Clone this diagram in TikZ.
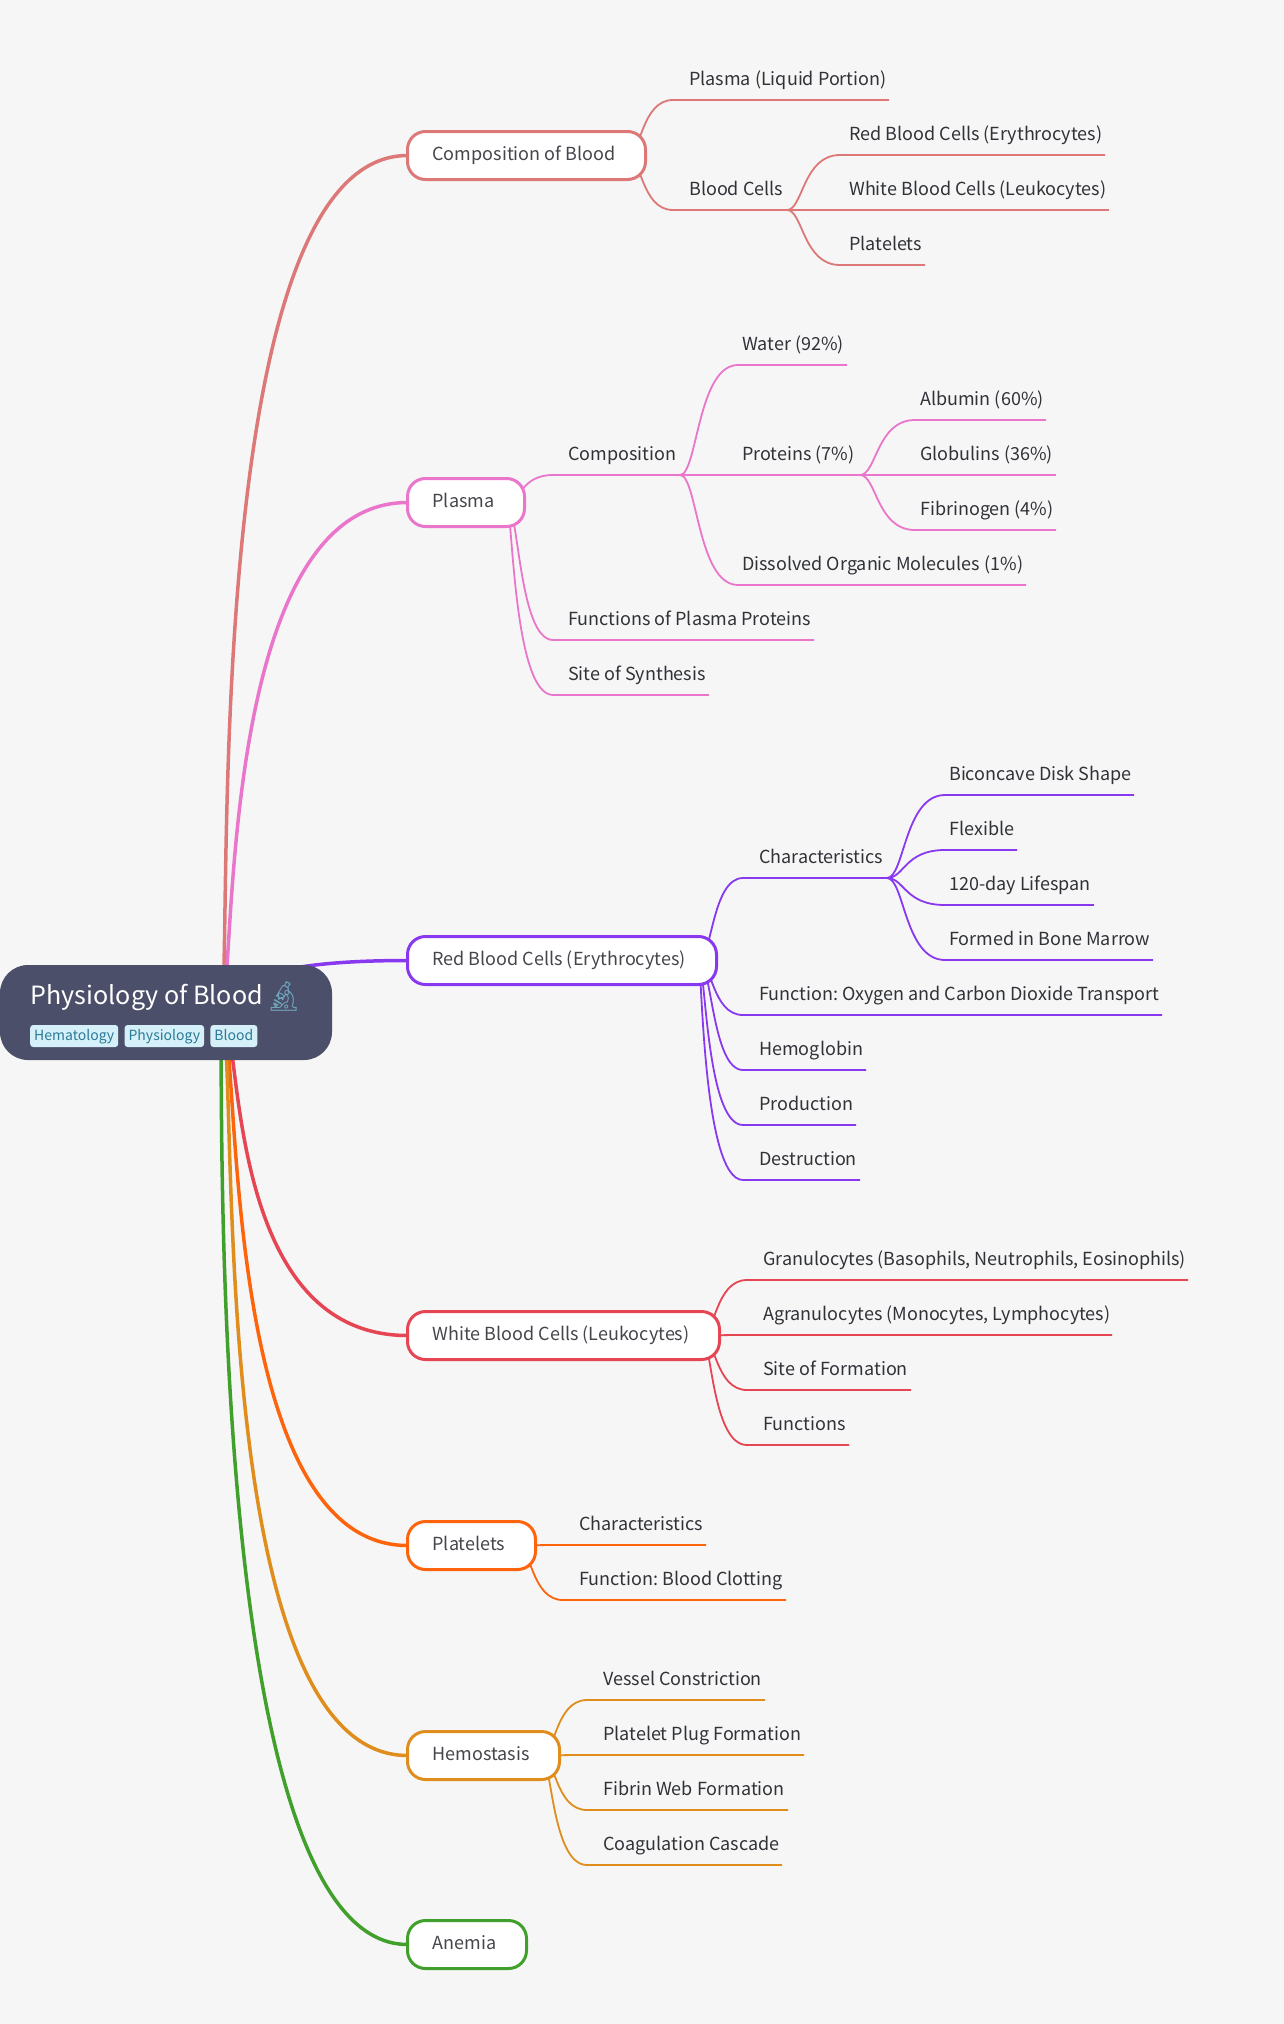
\documentclass[tikz,border=0pt]{standalone}
\usepackage{fontspec}
\setmainfont{Noto Sans CJK SC}
\newfontfamily\emojifont{Noto Emoji}
\usetikzlibrary{calc,positioning,backgrounds}
\definecolor{pagebg}{HTML}{F6F6F6}
\definecolor{rootbg}{HTML}{4C4F69}
\definecolor{tagbg}{HTML}{D5F0F8}
\definecolor{tagfg}{HTML}{2B7A96}
\definecolor{scope}{HTML}{6FA6BC}
\definecolor{leaffg}{HTML}{303238}
\definecolor{pillfg}{HTML}{45464C}
\definecolor{flamingo}{HTML}{DD7878}
\definecolor{pinkish}{HTML}{EA76CB}
\definecolor{mauve}{HTML}{8839EF}
\definecolor{maroon}{HTML}{E64553}
\definecolor{peach}{HTML}{FE640B}
\definecolor{amber}{HTML}{DF8E1D}
\definecolor{leafgreen}{HTML}{40A02B}

\begin{document}
\frenchspacing
\begin{tikzpicture}[
			x=1pt, y=-1pt,
			roottitle/.style={anchor=base west, inner sep=0pt, white, font={\fontsize{25.1pt}{30pt}\selectfont}},
			tag/.style={fill=tagbg, text=tagfg, rounded corners=3pt, inner xsep=4pt, inner ysep=0pt, text height=12pt, text depth=4pt, minimum height=22pt, font={\fontsize{14pt}{18pt}\selectfont}},
			pill/.style={draw=#1, fill=white, line width=3pt, rounded corners=18pt, anchor=west, inner xsep=25pt, inner ysep=0pt, outer sep=0pt, minimum height=48pt, text height=13pt, text depth=4pt, align=left, text=pillfg, font={\fontsize{18pt}{22pt}\selectfont}},
			leaf/.style={anchor=base west, inner sep=0pt, text=leaffg, font={\fontsize{18pt}{22pt}\selectfont}},
			trunk/.style={draw=#1, line width=3.5pt},
			twig/.style={draw=#1, line width=1.8pt, line join=round},
			branch/.style={to path={let \p1=(\tikztostart), \p2=(\tikztotarget), \n1={\x1+#1*(\x2-\x1)} in .. controls (\n1,\y1) and (\n1,\y2) .. (\p2)}},
			branch/.default=0.3
	]
	\begin{scope}[on background layer]
		\fill[pagebg] (0,0) rectangle (1284,2024);
	\end{scope}
	\path[use as bounding box] (0,0) rectangle (1284,2024);

	% >> root
	\node[fill=rootbg, rounded corners=28pt, anchor=north west, minimum width=332pt, minimum height=95pt, inner sep=0pt, outer sep=0pt] (root) at (0,965) {};
	\node[roottitle] (title) at (30.5,1004) {Physiology of Blood\hspace{2.5pt}{\emojifont\fontsize{29pt}{30pt}\selectfont\raisebox{-2pt}{\textcolor{scope}{🔬}}}};
	\node[tag, anchor=west] (hematology) at (30,1036) {Hematology};
	\node[tag, right=6pt of hematology] (physiology) {Physiology};
	\node[tag, right=6pt of physiology] (bloodtag) {Blood};
	\coordinate (hub) at (220,1012);

	% >> first level
	\foreach \id/\col/\w/\yc/\ca/\cb/\txt in {
		composition/flamingo/238/155.5/236/190/{Composition of Blood},
		plasma/pinkish/117/502.5/238/210/{Plasma},
		rbc/mauve/309/960.5/240/195/{Red Blood Cells (Erythrocytes)},
		wbc/maroon/312/1335.5/245/217/{White Blood Cells (Leukocytes)},
		platelets/peach/128/1545.5/243/212/{Platelets},
		hemostasis/amber/152/1755.5/242/196/{Hemostasis},
		anemia/leafgreen/119/1944.5/226/195/{Anemia}
	}{
		\node[pill=\col, text width={\w pt-50pt}, minimum width=\w pt] (\id) at (407.5,\yc) {\spaceskip=0pt\relax\mbox{\txt}};
		\coordinate (\id-out) at ($(\id.east)+(-18pt,0pt)$);
		\begin{scope}[on background layer]
			\draw[trunk=\col] (hub) .. controls (\ca,1012) and (\cb,\yc) .. (\id.west);
		\end{scope}
	}

	% >> leaves: name/parent/line start/text/line end/line y/bend/label
	\foreach \col/\id/\from/\xa/\xt/\xb/\y/\bend/\txt in {
		flamingo/liquid/composition/673/689/889/100/0.3/{Plasma (Liquid Portion)},
		flamingo/cells/composition/673/689/787/210/0.3/{Blood Cells},
		flamingo/erythro/cells/840/849/1105/155/0.3/{Red Blood Cells (Erythrocytes)},
		flamingo/leuko/cells/840/849/1109/210/0.3/{White Blood Cells (Leukocytes)},
		flamingo/thrombo/cells/840/849/925/265/0.3/{Platelets},
		%
		pinkish/makeup/plasma/553/568/680/475/0.3/{Composition},
		pinkish/functions/plasma/553/568/814/640/0.26/{Functions of Plasma Proteins},
		pinkish/synthesis/plasma/553/568/709/695/0.13/{Site of Synthesis},
		pinkish/water/makeup/738/742/847/365/0.3/{Water (92\%)},
		pinkish/proteins/makeup/738/742/860/475/0.3/{Proteins (7\%)},
		pinkish/organic/makeup/738/742/1026/585/0.3/{Dissolved Organic Molecules (1\%)},
		pinkish/albumin/proteins/915/920/1046/420/0.3/{Albumin (60\%)},
		pinkish/globulins/proteins/915/920/1056/475/0.3/{Globulins (36\%)},
		pinkish/fibrinogen/proteins/915/920/1056/530/0.3/{Fibrinogen (4\%)},
		%
		mauve/traits/rbc/743/759/887/878/0.3/{Characteristics},
		mauve/oxygen/rbc/743/759/1162/1015/0.3/{Function: Oxygen and Carbon Dioxide Transport},
		mauve/hemoglobin/rbc/743/759/866/1070/0.3/{Hemoglobin},
		mauve/production/rbc/743/759/856/1125/0.16/{Production},
		mauve/destruction/rbc/743/759/860/1180/0.08/{Destruction},
		mauve/biconcave/traits/945/949/1134/795/0.3/{Biconcave Disk Shape},
		mauve/flexible/traits/945/949/1017/850/0.3/{Flexible},
		mauve/lifespan/traits/945/949/1094/905/0.3/{120-day Lifespan},
		mauve/marrow/traits/945/949/1153/960/0.3/{Formed in Bone Marrow},
		%
		maroon/granulo/wbc/747/763/1188/1280/0.3/{Granulocytes (Basophils, Neutrophils, Eosinophils)},
		maroon/agranulo/wbc/747/763/1112/1335/0.3/{Agranulocytes (Monocytes, Lymphocytes)},
		maroon/formation/wbc/747/763/911/1390/0.3/{Site of Formation},
		maroon/wbcfunctions/wbc/747/763/849/1445/0.22/{Functions},
		%
		peach/pltraits/platelets/563/579/706/1545/0.3/{Characteristics},
		peach/clotting/platelets/563/579/786/1600/0.3/{Function: Blood Clotting},
		%
		amber/vessel/hemostasis/587/603/765/1700/0.3/{Vessel Constriction},
		amber/plug/hemostasis/587/603/804/1755/0.3/{Platelet Plug Formation},
		amber/fibrin/hemostasis/587/603/788/1810/0.3/{Fibrin Web Formation},
		amber/cascade/hemostasis/587/603/782/1865/0.22/{Coagulation Cascade}
	}{
		\coordinate (\id-in) at (\xa,\y);
		\coordinate (\id-out) at (\xb,\y);
		\node[leaf] (\id) at (\xt,\y-15) {\txt};
		\begin{scope}[on background layer]
			\draw[twig=\col] (\from-out) to[branch=\bend] (\id-in) -- (\id-out);
		\end{scope}
	}
\end{tikzpicture}
\end{document}
